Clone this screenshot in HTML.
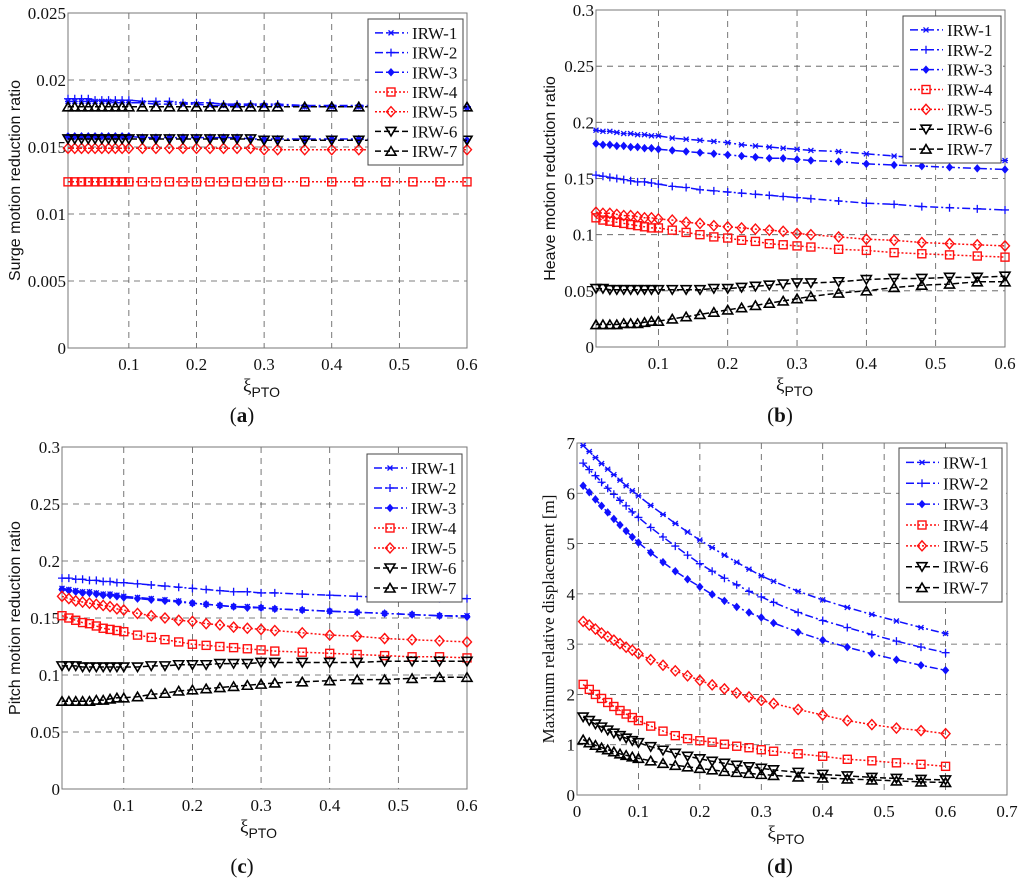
<!DOCTYPE html>
<html><head><meta charset="utf-8"><style>
body{margin:0;background:#fff;width:1024px;height:883px;overflow:hidden}
svg text{font-family:"Liberation Serif",serif}
</style></head><body>
<svg id="fig" width="1024" height="883" viewBox="0 0 1024 883" xmlns="http://www.w3.org/2000/svg"></svg>
<script>
const xs=[.01,.02,.03,.04,.05,.06,.07,.08,.09,.10,.12,.14,.16,.18,.20,.22,.24,.26,.28,.30,.32,.36,.40,.44,.48,.52,.56,.60];
const seriesNames=["IRW-1","IRW-2","IRW-3","IRW-4","IRW-5","IRW-6","IRW-7"];
// Panel a: surge
const aIRW1=[.0184,.0184,.0184,.0184,.0184,.0184,.0184,.0183,.0183,.0183,.0183,.0182,.0182,.0182,.0182,.0181,.0181,.0181,.0181,.0181,.0181,.0180,.0180,.0180,.0180,.0180,.0180,.0179];
const aIRW2=[.0186,.0186,.0186,.0186,.0185,.0185,.0185,.0185,.0185,.0185,.0184,.0184,.0184,.0183,.0183,.0183,.0182,.0182,.0182,.0182,.0182,.0181,.0181,.0181,.0181,.0180,.0180,.0180];
const aIRW3=[.0158,.0158,.0158,.0158,.0158,.0158,.0158,.0158,.0158,.0158,.0157,.0157,.0157,.0157,.0157,.0157,.0157,.0157,.0156,.0156,.0156,.0156,.0156,.0156,.0155,.0155,.0155,.0155];
const aIRW4=[.0124,.0124,.0124,.0124,.0124,.0124,.0124,.0124,.0124,.0124,.0124,.0124,.0124,.0124,.0124,.0124,.0124,.0124,.0124,.0124,.0124,.0124,.0124,.0124,.0124,.0124,.0124,.0124];
const aIRW5=[.0149,.0149,.0149,.0149,.0149,.0149,.0149,.0149,.0149,.0149,.0149,.0149,.0149,.0149,.0149,.0149,.0149,.0149,.0149,.0148,.0148,.0148,.0148,.0148,.0148,.0148,.0148,.0148];
const aIRW6=[.0156,.0156,.0156,.0156,.0156,.0156,.0156,.0156,.0156,.0156,.0156,.0156,.0156,.0156,.0156,.0156,.0156,.0156,.0156,.0155,.0155,.0155,.0155,.0155,.0155,.0155,.0155,.0155];
const aIRW7=[.0180,.0180,.0180,.0180,.0180,.0180,.0180,.0180,.0180,.0180,.0180,.0180,.0180,.0180,.0180,.0180,.0180,.0180,.0180,.0180,.0180,.0180,.0180,.0180,.0180,.0180,.0180,.0180];
// Panel b: heave
const bIRW1=[.193,.192,.192,.191,.190,.190,.189,.189,.188,.188,.186,.185,.184,.183,.182,.180,.179,.178,.177,.176,.175,.174,.172,.170,.168,.167,.166,.166];
const bIRW2=[.153,.152,.151,.150,.149,.148,.147,.147,.146,.145,.143,.142,.140,.139,.138,.137,.136,.135,.134,.133,.132,.130,.128,.127,.125,.124,.123,.122];
const bIRW3=[.181,.180,.180,.179,.179,.178,.178,.177,.177,.176,.175,.174,.173,.172,.171,.170,.169,.168,.168,.167,.166,.165,.163,.162,.161,.160,.159,.158];
const bIRW4=[.115,.113,.112,.111,.110,.109,.108,.107,.106,.106,.104,.102,.100,.098,.097,.095,.094,.092,.091,.090,.089,.087,.086,.084,.083,.082,.081,.080];
const bIRW5=[.120,.119,.119,.118,.117,.117,.116,.115,.115,.114,.113,.111,.110,.108,.107,.106,.105,.104,.103,.101,.100,.098,.096,.095,.093,.092,.091,.090];
const bIRW6=[.052,.052,.051,.051,.051,.051,.051,.051,.051,.051,.051,.051,.051,.052,.052,.053,.054,.055,.056,.057,.057,.058,.060,.061,.061,.062,.062,.063];
const bIRW7=[.020,.020,.020,.020,.021,.021,.021,.022,.023,.023,.025,.027,.029,.031,.033,.035,.037,.039,.041,.043,.045,.048,.050,.053,.055,.056,.058,.058];
// Panel c: pitch
const cIRW1=[.176,.175,.174,.173,.173,.172,.171,.171,.170,.169,.168,.167,.166,.165,.163,.162,.161,.160,.160,.159,.158,.157,.156,.155,.154,.153,.152,.152];
const cIRW2=[.185,.185,.184,.184,.183,.183,.182,.182,.181,.181,.180,.179,.178,.177,.176,.175,.174,.173,.173,.172,.172,.171,.170,.169,.168,.168,.167,.167];
const cIRW3=[.175,.174,.173,.172,.172,.171,.170,.170,.169,.168,.167,.166,.165,.164,.163,.162,.161,.160,.159,.159,.158,.157,.156,.155,.154,.153,.152,.151];
const cIRW4=[.152,.150,.148,.146,.145,.143,.141,.140,.139,.138,.135,.133,.131,.129,.127,.126,.125,.124,.123,.122,.121,.120,.119,.118,.117,.116,.116,.115];
const cIRW5=[.169,.167,.165,.164,.163,.162,.161,.160,.158,.157,.154,.152,.150,.148,.147,.145,.144,.142,.141,.140,.139,.137,.135,.134,.132,.131,.130,.129];
const cIRW6=[.108,.108,.108,.107,.107,.107,.107,.107,.107,.107,.107,.108,.108,.109,.109,.109,.110,.110,.110,.111,.111,.111,.111,.111,.112,.112,.112,.112];
const cIRW7=[.077,.077,.077,.077,.077,.078,.078,.079,.080,.080,.081,.083,.084,.086,.087,.088,.089,.090,.091,.092,.093,.094,.095,.096,.096,.097,.098,.098];
// Panel d: displacement
const dIRW1=[6.95,6.83,6.71,6.59,6.48,6.37,6.26,6.15,6.05,5.95,5.76,5.58,5.40,5.23,5.07,4.92,4.77,4.63,4.49,4.36,4.25,4.05,3.88,3.73,3.59,3.46,3.33,3.21];
const dIRW2=[6.6,6.47,6.35,6.22,6.1,5.98,5.86,5.75,5.63,5.52,5.32,5.13,4.95,4.77,4.6,4.45,4.31,4.18,4.05,3.94,3.83,3.63,3.47,3.33,3.19,3.06,2.94,2.83];
const dIRW3=[6.15,6.02,5.88,5.75,5.62,5.49,5.37,5.25,5.13,5.02,4.82,4.63,4.45,4.29,4.14,3.99,3.86,3.74,3.63,3.53,3.42,3.24,3.08,2.94,2.81,2.69,2.58,2.48];
const dIRW4=[2.2,2.1,2.0,1.92,1.84,1.76,1.68,1.61,1.54,1.48,1.37,1.27,1.18,1.12,1.08,1.05,1.01,0.97,0.94,0.9,0.87,0.82,0.77,0.71,0.68,0.64,0.61,0.57];
const dIRW5=[3.45,3.38,3.3,3.22,3.15,3.08,3.01,2.94,2.88,2.81,2.69,2.58,2.47,2.37,2.28,2.19,2.11,2.03,1.95,1.88,1.82,1.7,1.59,1.48,1.4,1.33,1.28,1.22];
const dIRW6=[1.55,1.48,1.41,1.35,1.29,1.23,1.18,1.13,1.08,1.04,0.96,0.89,0.83,0.77,0.72,0.67,0.63,0.59,0.56,0.53,0.5,0.45,0.41,0.38,0.35,0.33,0.31,0.3];
const dIRW7=[1.1,1.04,0.99,0.94,0.9,0.86,0.82,0.79,0.76,0.73,0.68,0.63,0.59,0.56,0.53,0.5,0.47,0.45,0.43,0.41,0.39,0.36,0.34,0.32,0.3,0.28,0.26,0.25];
const aYTicks=["0","0.005","0.01","0.015","0.02","0.025"];
const bYTicks=["0","0.05","0.1","0.15","0.2","0.25","0.3"];
const dYTicks=["0","1","2","3","4","5","6","7"];
const xTicks6=["0.1","0.2","0.3","0.4","0.5","0.6"];
const xTicks7=["0","0.1","0.2","0.3","0.4","0.5","0.6","0.7"];

const NS="http://www.w3.org/2000/svg";
const svg=document.getElementById('fig');
function mk(tag,attrs,parent){const e=document.createElementNS(NS,tag);for(const k in attrs)e.setAttribute(k,attrs[k]);(parent||svg).appendChild(e);return e;}
const styles=[
 {c:"#1010ff",d:"8,3,2,3",m:"x"},{c:"#1010ff",d:"8,3,2,3",m:"+"},{c:"#1010ff",d:"8,3,2,3",m:"dot"},
 {c:"#ff1010",d:"2,2",m:"sq"},{c:"#ff1010",d:"2,2",m:"dia"},{c:"#000",d:"6,3",m:"tdn"},{c:"#000",d:"6,3",m:"tup"}];
function marker(g,t,x,y,c){
 let e;
 if(t==="x"){e=mk('path',{d:`M${x-2.5},${y-2.5}L${x+2.5},${y+2.5}M${x-2.5},${y+2.5}L${x+2.5},${y-2.5}M${x-3},${y}L${x+3},${y}`,stroke:c,'stroke-width':1.3,fill:'none'},g);}
 else if(t==="+"){e=mk('path',{d:`M${x-4},${y}L${x+4},${y}M${x},${y-4}L${x},${y+4}`,stroke:c,'stroke-width':1.3,fill:'none'},g);}
 else if(t==="dot"){e=mk('path',{d:`M${x},${y-3.5}L${x+3},${y}L${x},${y+3.5}L${x-3},${y}Z`,fill:c,stroke:c,'stroke-width':1},g);}
 else if(t==="sq"){e=mk('rect',{x:x-4,y:y-4,width:8,height:8,fill:'none',stroke:c,'stroke-width':1.4},g);}
 else if(t==="dia"){e=mk('path',{d:`M${x},${y-5}L${x+4.5},${y}L${x},${y+5}L${x-4.5},${y}Z`,fill:'none',stroke:c,'stroke-width':1.4},g);}
 else if(t==="tdn"){e=mk('path',{d:`M${x-5},${y-4}L${x+5},${y-4}L${x},${y+4.5}Z`,fill:'none',stroke:c,'stroke-width':1.6},g);}
 else {e=mk('path',{d:`M${x-5},${y+4}L${x+5},${y+4}L${x},${y-4.5}Z`,fill:'none',stroke:c,'stroke-width':1.6},g);}
 
 
}
function panel(p){
 const g=mk('g',{});
 
 
 const X=v=>p.L+(v-p.x0)/(p.x1-p.x0)*(p.R-p.L);
 const Y=v=>p.B-(v-p.y0)/(p.y1-p.y0)*(p.B-p.T);
 p.xt.forEach(t=>{const x=X(+t);if(x>p.L+1&&x<p.R-1){const l=mk('line',{x1:x,x2:x,y1:p.T,y2:p.B,stroke:'#555','stroke-dasharray':'6,5','stroke-width':0.8},g);}
   const tx=mk('text',{x:x,y:p.B+22,'text-anchor':'middle','font-size':17,fill:'#111'},g);tx.textContent=t;});
 p.yt.forEach(t=>{const y=Y(+t);if(y>p.T+1&&y<p.B-1){const l=mk('line',{x1:p.L,x2:p.R,y1:y,y2:y,stroke:'#555','stroke-dasharray':'6,5','stroke-width':0.8},g);}
   const tx=mk('text',{x:p.L-2,y:y+6,'text-anchor':'end','font-size':17,fill:'#111'},g);tx.textContent=t;});
 const fr=mk('rect',{x:p.L,y:p.T,width:p.R-p.L,height:p.B-p.T,fill:'none',stroke:'#777','stroke-width':1},g);
 
 p.data.forEach((arr,i)=>{const s=styles[i];
   const pts=arr.map((v,j)=>X(xs[j]).toFixed(1)+','+Y(v).toFixed(1)).join(' ');
   const pl=mk('polyline',{points:pts,fill:'none',stroke:s.c,'stroke-width':1.5,'stroke-dasharray':s.d},g);
   
   
   arr.forEach((v,j)=>marker(g,s.m,X(xs[j]),Y(v),s.c));});
 const lg=mk('g',{},g);
 
 
 mk('rect',{x:p.lx,y:p.ly,width:p.lw,height:p.lh,fill:'#fff',stroke:'#444','stroke-width':1},lg);
 const step=(p.lh-8)/7;
 seriesNames.forEach((n,i)=>{const s=styles[i];const y=p.ly+4+step*(i+0.5);
   const e=mk('g',{},lg);
   
   
   mk('line',{x1:p.lx+7,x2:p.lx+40,y1:y,y2:y,stroke:s.c,'stroke-width':1.5,'stroke-dasharray':s.d},e);
   marker(e,s.m,p.lx+23,y,s.c);
   const t=mk('text',{x:p.lx+44,y:y+6,'font-size':17,fill:'#111'},e);t.textContent=n;});
 const yl=mk('text',{x:0,y:0,transform:`translate(${p.ylx},${(p.T+p.B)/2}) rotate(-90)`,'text-anchor':'middle','font-size':p.ylf||16,style:p.ylSerif?'':'font-family:"Liberation Sans",sans-serif',fill:'#111'},g);
 yl.textContent=p.ylabel;
 const xl=mk('text',{x:(p.L+p.R)/2-6,y:p.B+44,'text-anchor':'middle','font-size':19,fill:'#111'},g);
 
 xl.innerHTML='ξ<tspan dy="5" font-size="14" style="font-family:Liberation Sans,sans-serif">PTO</tspan>';
 const cap=mk('text',{x:p.capx,y:p.capy,'text-anchor':'middle','font-size':21,fill:'#111'},g);
 cap.innerHTML='(<tspan font-weight="bold">'+p.cap+'</tspan>)';
 
}
panel({name:'surge-chart',L:68,R:467,T:13,B:348,x0:.01,x1:.6,y0:0,y1:.025,xt:xTicks6,yt:aYTicks,
 data:[aIRW1,aIRW2,aIRW3,aIRW4,aIRW5,aIRW6,aIRW7],lx:368,ly:19,lw:95,lh:146,ylx:20,ylabel:'Surge motion reduction ratio',cap:'a',capx:242,capy:422});
panel({name:'heave-chart',L:596,R:1005,T:10,B:347,x0:.01,x1:.6,y0:0,y1:.3,xt:xTicks6,yt:bYTicks,
 data:[bIRW1,bIRW2,bIRW3,bIRW4,bIRW5,bIRW6,bIRW7],lx:903,ly:16,lw:98,lh:147,ylx:555,ylabel:'Heave motion reduction ratio',cap:'b',capx:780,capy:422});
panel({name:'pitch-chart',L:62,R:467,T:447,B:789,x0:.01,x1:.6,y0:0,y1:.3,xt:xTicks6,yt:bYTicks,
 data:[cIRW1,cIRW2,cIRW3,cIRW4,cIRW5,cIRW6,cIRW7],lx:367,ly:454,lw:95,lh:148,ylx:20,ylabel:'Pitch motion reduction ratio',cap:'c',capx:242,capy:873});
panel({name:'displacement-chart',L:577,R:1007,T:443,B:795,x0:0,x1:.7,y0:0,y1:7,xt:xTicks7,yt:dYTicks,
 data:[dIRW1,dIRW2,dIRW3,dIRW4,dIRW5,dIRW6,dIRW7],lx:899,ly:448,lw:103,lh:154,ylx:554,ylf:17,ylSerif:true,ylabel:'Maximum relative displacement [m]',cap:'d',capx:780,capy:873});
</script>
</body></html>
